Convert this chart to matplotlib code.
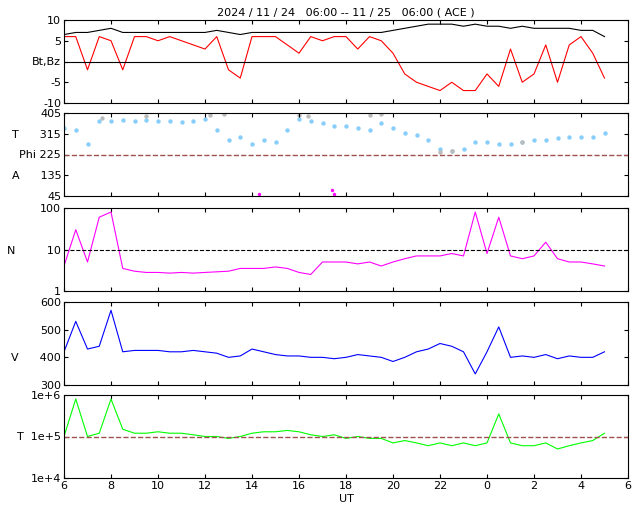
import numpy as np
import matplotlib.pyplot as plt
from matplotlib.ticker import FixedLocator

# sample times, hours since 2024-11-24 00:00 (every 30 min)
hours = [6.0, 6.5, 7.0, 7.5, 8.0, 8.5, 9.0, 9.5, 10.0, 10.5, 11.0, 11.5,
         12.0, 12.5, 13.0, 13.5, 14.0, 14.5, 15.0, 15.5, 16.0, 16.5, 17.0, 17.5,
         18.0, 18.5, 19.0, 19.5, 20.0, 20.5, 21.0, 21.5, 22.0, 22.5, 23.0, 23.5,
         24.0, 24.5, 25.0, 25.5, 26.0, 26.5, 27.0, 27.5, 28.0, 28.5, 29.0]

bt = [6.5, 7, 7, 7.5, 8, 7, 7, 7, 7, 7, 7, 7,
      7, 7.5, 7, 6.5, 7, 7, 7, 7, 7, 7, 7, 7,
      7, 7, 7, 7, 7.5, 8, 8.5, 9, 9, 9, 8.5, 9,
      8.5, 8.5, 8, 8.5, 8, 8, 8, 8, 7.5, 7.5, 6]
bz = [6, 6, -2, 6, 5, -2, 6, 6, 5, 6, 5, 4,
      3, 6, -2, -4, 6, 6, 6, 4, 2, 6, 5, 6,
      6, 3, 6, 5, 2, -3, -5, -6, -7, -5, -7, -7,
      -3, -6, 3, -5, -3, 4, -5, 4, 6, 2, -4]
theta = [340, 330, 270, 370, 370, 375, 370, 375, 370, 370, 365, 370,
         380, 330, 290, 300, 270, 290, 280, 330, 380, 370, 360, 350,
         350, 340, 330, 360, 340, 320, 310, 290, 250, 240, 250, 280,
         280, 270, 270, 280, 290, 290, 295, 300, 300, 300, 320]
gray_t = [7.6, 9.5, 12.2, 12.8, 16.0, 16.4, 19.0, 19.5, 22.0, 22.5, 25.5]
gray_v = [385, 390, 395, 400, 395, 390, 395, 400, 235, 240, 280]
mag_t = [14.3, 17.4, 17.5]
mag_v = [55, 70, 55]
dens = [4, 30, 5, 60, 80, 3.5, 3, 2.8, 2.8, 2.7, 2.8, 2.7,
        2.8, 2.9, 3, 3.5, 3.5, 3.5, 3.8, 3.5, 2.8, 2.5, 5, 5,
        5, 4.5, 5, 4, 5, 6, 7, 7, 7, 8, 7, 80,
        8, 60, 7, 6, 7, 15, 6, 5, 5, 4.5, 4]
vel = [420, 530, 430, 440, 570, 420, 425, 425, 425, 420, 420, 425,
       420, 415, 400, 405, 430, 420, 410, 405, 405, 400, 400, 395,
       400, 410, 405, 400, 385, 400, 420, 430, 450, 440, 420, 340,
       420, 510, 400, 405, 400, 410, 395, 405, 400, 400, 420]
temp = [1.0e5, 8e5, 1.0e5, 1.2e5, 8e5, 1.5e5, 1.2e5, 1.2e5, 1.3e5, 1.2e5, 1.2e5, 1.1e5,
        1.0e5, 1.0e5, 0.9e5, 1.0e5, 1.2e5, 1.3e5, 1.3e5, 1.4e5, 1.3e5, 1.1e5, 1.0e5, 1.1e5,
        0.9e5, 1.0e5, 0.9e5, 0.9e5, 0.7e5, 0.8e5, 0.7e5, 0.6e5, 0.7e5, 0.6e5, 0.7e5, 0.6e5,
        0.7e5, 3.5e5, 0.7e5, 0.6e5, 0.6e5, 0.7e5, 0.5e5, 0.6e5, 0.7e5, 0.8e5, 1.2e5]

xticks = [6, 8, 10, 12, 14, 16, 18, 20, 22, 24, 26, 28, 30]
xlabels = ['6', '8', '10', '12', '14', '16', '18', '20', '22', '0', '2', '4', '6']

plt.rcParams['font.size'] = 8
fig = plt.figure(figsize=(6.4, 5.12), dpi=100)
W, H = 640, 512
tops = [20, 113, 208, 302, 395]
hgt = 83
axes = [fig.add_axes([64 / W, 1 - (t + hgt) / H, 564 / W, hgt / H]) for t in tops]

ax = axes[0]
ax.plot(hours, bt, color='black', lw=0.8)
ax.plot(hours, bz, color='red', lw=0.8)
ax.axhline(0, color='black', lw=0.8)
ax.set_ylim(-10, 10)
ax.set_yticks([-10, -5, 0, 5, 10])
ax.set_yticklabels(['-10', '-5', 'Bt,Bz', '5', '10'])
ax.set_title('2024 / 11 / 24   06:00 -- 11 / 25   06:00 ( ACE )', fontsize=8, pad=3)

ax = axes[1]
ax.scatter(hours, theta, s=10, color='#87cefa', lw=0)
ax.scatter(gray_t, gray_v, s=10, color='#bbbbbb', lw=0)
ax.scatter(mag_t, mag_v, s=6, color='magenta', lw=0)
ax.axhline(225, color='#a05050', ls='--', lw=1)
ax.set_ylim(45, 405)
ax.set_yticks([45, 135, 225, 315, 405])
ax.set_yticklabels(['45', 'A      135', 'Phi 225', 'T      315', '405'])

ax = axes[2]
ax.plot(hours, dens, color='magenta', lw=0.8)
ax.axhline(10, color='black', ls='--', lw=0.8)
ax.set_yscale('log')
ax.set_ylim(1, 100)
ax.set_yticks([1, 10, 100])
ax.set_yticklabels(['1', 'N         10', '100'])
ax.minorticks_off()

ax = axes[3]
ax.plot(hours, vel, color='blue', lw=0.8)
ax.set_ylim(300, 600)
ax.set_yticks([300, 400, 500, 600])
ax.set_yticklabels(['300', 'V      400', '500', '600'])

ax = axes[4]
ax.plot(hours, temp, color='#00ff00', lw=0.8)
ax.axhline(1e5, color='#a05050', ls='--', lw=1)
ax.set_yscale('log')
ax.set_ylim(1e4, 1e6)
ax.set_yticks([1e4, 1e5, 1e6])
ax.set_yticklabels(['1e+4', 'T  1e+5', '1e+6'])
ax.minorticks_off()
ax.set_xlabel('UT', labelpad=2)

for i, ax in enumerate(axes):
    ax.set_xlim(6, 30)
    ax.xaxis.set_major_locator(FixedLocator(xticks))
    ax.tick_params(direction='in', length=3, top=True, right=True, pad=2)
    if i == 4:
        ax.set_xticklabels(xlabels)
    else:
        ax.set_xticklabels([])

fig.savefig('out.png', dpi=100)
